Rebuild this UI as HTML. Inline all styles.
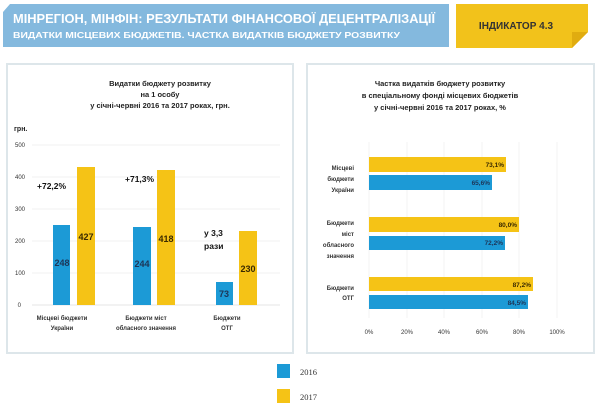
<!DOCTYPE html>
<html><head><meta charset="utf-8"><style>
body{margin:0;width:600px;height:407px;background:#fff;overflow:hidden;font-family:"Liberation Sans",sans-serif}
</style></head><body>
<svg width="600" height="407" xmlns="http://www.w3.org/2000/svg" font-family="Liberation Sans, sans-serif">
<rect x="3" y="4" width="446" height="43" fill="#84b9de"/>
<polygon points="3,4 10,4 3,12" fill="#fff"/>
<text x="13" y="23" font-size="13" font-weight="bold" fill="#fff" textLength="422" lengthAdjust="spacingAndGlyphs">МІНРЕГІОН, МІНФІН: РЕЗУЛЬТАТИ ФІНАНСОВОЇ ДЕЦЕНТРАЛІЗАЦІЇ</text>
<text x="13" y="38" font-size="8.5" font-weight="bold" fill="#fff" textLength="387" lengthAdjust="spacingAndGlyphs">ВИДАТКИ МІСЦЕВИХ БЮДЖЕТІВ. ЧАСТКА ВИДАТКІВ БЮДЖЕТУ РОЗВИТКУ</text>
<rect x="456" y="4" width="132" height="44" fill="#f2c21b"/>
<polygon points="572,48 588,32 588,48" fill="#fff"/>
<polygon points="572,48 588,32 572,32" fill="#e0ac10"/>
<text x="516" y="29" font-size="10" font-weight="bold" fill="#333" text-anchor="middle">ІНДИКАТОР 4.3</text>

<rect x="7" y="64" width="286" height="289" fill="#fff" stroke="#dde6ea" stroke-width="2"/>
<rect x="307" y="64" width="287" height="289" fill="#fff" stroke="#dde6ea" stroke-width="2"/>

<g font-size="7.5" font-weight="bold" fill="#222" text-anchor="middle">
<text x="160" y="86">Видатки бюджету розвитку</text>
<text x="160" y="97">на 1 особу</text>
<text x="160" y="108">у січні-червні 2016 та 2017 роках, грн.</text>
<text x="440" y="86">Частка видатків бюджету розвитку</text>
<text x="440" y="98">в спеціальному фонді місцевих бюджетів</text>
<text x="440" y="110">у січні-червні 2016 та 2017 роках, %</text>
</g>
<text x="14" y="131" font-size="7" font-weight="bold" fill="#222">грн.</text>
<g stroke="#eeeeee" stroke-width="0.7">
<line x1="32" y1="145" x2="280" y2="145"/><line x1="32" y1="177" x2="280" y2="177"/>
<line x1="32" y1="209" x2="280" y2="209"/><line x1="32" y1="241" x2="280" y2="241"/>
<line x1="32" y1="273" x2="280" y2="273"/>
</g>
<line x1="32" y1="305" x2="280" y2="305" stroke="#ddd" stroke-width="0.7"/>
<g font-size="6" fill="#333" text-anchor="end">
<text x="25" y="147">500</text><text x="25" y="179">400</text><text x="25" y="211">300</text>
<text x="25" y="243">200</text><text x="25" y="275">100</text><text x="21" y="307">0</text>
</g>
<rect x="53" y="225" width="17" height="80" fill="#1c9ad6"/>
<rect x="77" y="167" width="18" height="138" fill="#f5c316"/>
<rect x="133" y="227" width="18" height="78" fill="#1c9ad6"/>
<rect x="157" y="170" width="18" height="135" fill="#f5c316"/>
<rect x="216" y="282" width="17" height="23" fill="#1c9ad6"/>
<rect x="239" y="231" width="18" height="74" fill="#f5c316"/>
<g font-size="9" font-weight="bold" text-anchor="middle">
<text x="62" y="266" fill="#1d3557">248</text><text x="86" y="240" fill="#3a2a00">427</text>
<text x="142" y="267" fill="#1d3557">244</text><text x="166" y="242" fill="#3a2a00">418</text>
<text x="224" y="297" fill="#1d3557">73</text><text x="248" y="272" fill="#3a2a00">230</text>
</g>
<g font-size="8.5" font-weight="bold" fill="#111">
<text x="37" y="189">+72,2%</text><text x="125" y="182">+71,3%</text>
<text x="204" y="236">у 3,3</text><text x="204" y="249">рази</text>
</g>
<g font-size="6" font-weight="bold" fill="#333" text-anchor="middle">
<text x="62" y="320">Місцеві бюджети</text><text x="62" y="330">України</text>
<text x="146" y="320">Бюджети  міст</text><text x="146" y="330">обласного значення</text>
<text x="227" y="320">Бюджети</text><text x="227" y="330">ОТГ</text>
</g>

<g stroke="#eeeeee" stroke-width="0.7">
<line x1="369" y1="142" x2="369" y2="318"/><line x1="407" y1="142" x2="407" y2="318"/>
<line x1="444" y1="142" x2="444" y2="318"/><line x1="482" y1="142" x2="482" y2="318"/>
<line x1="519" y1="142" x2="519" y2="318"/><line x1="557" y1="142" x2="557" y2="318"/>
</g>
<rect x="369" y="157" width="137" height="15" fill="#f5c316"/>
<rect x="369" y="175" width="123" height="15" fill="#1c9ad6"/>
<rect x="369" y="217" width="150" height="15" fill="#f5c316"/>
<rect x="369" y="236" width="136" height="14" fill="#1c9ad6"/>
<rect x="369" y="277" width="164" height="14" fill="#f5c316"/>
<rect x="369" y="295" width="159" height="14" fill="#1c9ad6"/>
<g font-size="6.5" font-weight="bold" text-anchor="end">
<text x="504" y="167" fill="#3a2a00">73,1%</text><text x="490" y="185" fill="#1d3557">65,6%</text>
<text x="517" y="227" fill="#3a2a00">80,0%</text><text x="503" y="245" fill="#1d3557">72,2%</text>
<text x="531" y="287" fill="#3a2a00">87,2%</text><text x="526" y="305" fill="#1d3557">84,5%</text>
</g>
<g font-size="6" font-weight="bold" fill="#333" text-anchor="end">
<text x="354" y="170">Місцеві</text><text x="354" y="181">бюджети</text><text x="354" y="192">України</text>
<text x="354" y="225">Бюджети</text><text x="354" y="236">міст</text><text x="354" y="247">обласного</text><text x="354" y="258">значення</text>
<text x="354" y="290">Бюджети</text><text x="354" y="300">ОТГ</text>
</g>
<g font-size="6" fill="#333" text-anchor="middle">
<text x="369" y="334">0%</text><text x="407" y="334">20%</text><text x="444" y="334">40%</text>
<text x="482" y="334">60%</text><text x="519" y="334">80%</text><text x="557" y="334">100%</text>
</g>

<rect x="277" y="364" width="13" height="14" fill="#1c9ad6"/>
<rect x="277" y="389" width="13" height="14" fill="#f5c316"/>
<text x="300" y="375" font-size="8.5" fill="#333" font-family="Liberation Serif, serif">2016</text>
<text x="300" y="400" font-size="8.5" fill="#333" font-family="Liberation Serif, serif">2017</text>
</svg>
</body></html>
